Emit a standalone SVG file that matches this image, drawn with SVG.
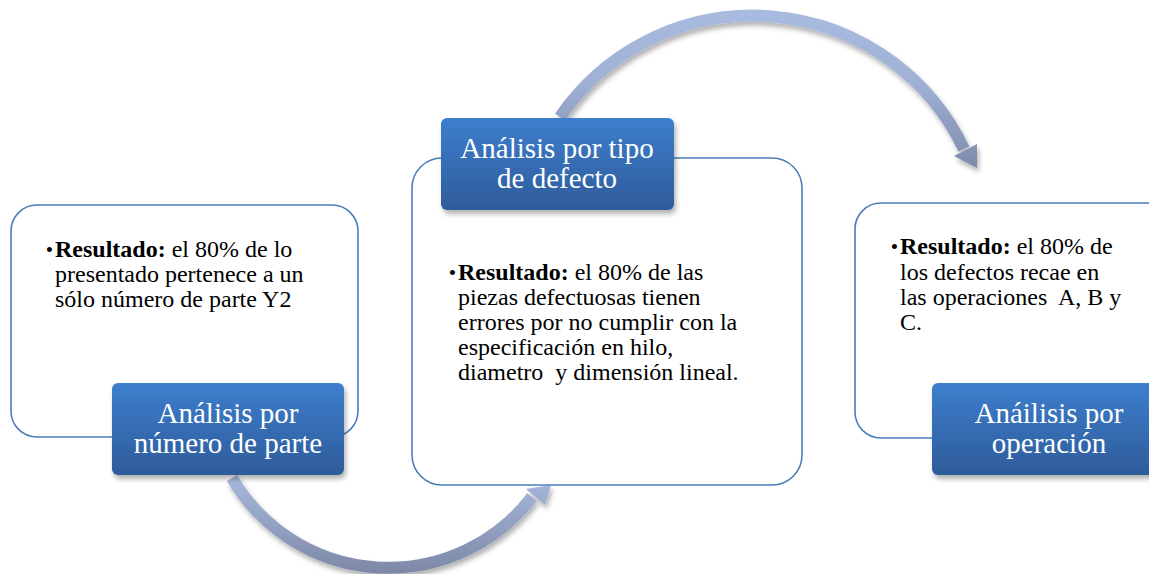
<svg xmlns="http://www.w3.org/2000/svg" width="1149" height="574" viewBox="0 0 1149 574">
<style>
.box{fill:#ffffff;stroke:#4a7ebb;stroke-width:1.6}
.lbl{fill:url(#lblGrad);filter:url(#shadow)}
text{font-family:'Liberation Serif','DejaVu Serif',serif}
.lt{font-size:29px;fill:#ffffff;text-anchor:middle}
.bt{font-size:24px;fill:#000000}
.b{font-weight:bold}
.bul{text-anchor:end;font-size:21px}
</style>
<defs>
<linearGradient id="lblGrad" x1="0" y1="0" x2="0" y2="1">
<stop offset="0" stop-color="#3d7ecd"/>
<stop offset="1" stop-color="#2e5c9a"/>
</linearGradient>
<linearGradient id="topArrowGrad" gradientUnits="userSpaceOnUse" x1="0" y1="15" x2="0" y2="170">
<stop offset="0" stop-color="#a8badf"/>
<stop offset="0.45" stop-color="#9fb0d4"/>
<stop offset="1" stop-color="#7d89a8"/>
</linearGradient>
<linearGradient id="botArrowGrad" gradientUnits="userSpaceOnUse" x1="0" y1="478" x2="0" y2="572">
<stop offset="0" stop-color="#a7b8dc"/>
<stop offset="1" stop-color="#7e89a7"/>
</linearGradient>
<filter id="shadow" x="-10%" y="-10%" width="130%" height="140%">
<feDropShadow dx="2" dy="4" stdDeviation="2.5" flood-color="#000000" flood-opacity="0.3"/>
</filter>
</defs>

<g id="connectors" filter="url(#shadow)">
<path d="M 560 117 A 234 234 0 0 1 964 149" fill="none" stroke="url(#topArrowGrad)" stroke-width="12"/>
<polygon points="954,156 977,144 977,168" fill="url(#topArrowGrad)"/>
<path d="M 232 478 A 181 181 0 0 0 532 497" fill="none" stroke="url(#botArrowGrad)" stroke-width="12"/>
<polygon points="526,489 545,505 551,485" fill="url(#botArrowGrad)"/>
</g>

<g id="node-numero-parte">
<rect class="box" x="11" y="205" width="347" height="232" rx="26"/>
<text class="bt bul" x="53" y="257">•</text>
<text class="bt" x="55" y="257"><tspan class="b">Resultado:</tspan> el 80% de lo</text>
<text class="bt" x="55" y="282">presentado pertenece a un</text>
<text class="bt" x="55" y="307">sólo número de parte Y2</text>
<rect class="lbl" x="112" y="383" width="232" height="92" rx="6"/>
<text class="lt" x="228" y="423">Análisis por</text>
<text class="lt" x="228" y="453">número de parte</text>
</g>

<g id="node-tipo-defecto">
<rect class="box" x="412" y="158" width="390" height="327" rx="30"/>
<text class="bt bul" x="456" y="280">•</text>
<text class="bt" x="458" y="280"><tspan class="b">Resultado:</tspan> el 80% de las</text>
<text class="bt" x="458" y="305">piezas defectuosas tienen</text>
<text class="bt" x="458" y="330">errores por no cumplir con la</text>
<text class="bt" x="458" y="355">especificación en hilo,</text>
<text class="bt" x="458" y="380" xml:space="preserve">diametro  y dimensión lineal.</text>
<rect class="lbl" x="441" y="118" width="233" height="92" rx="6"/>
<text class="lt" x="557" y="158">Análisis por tipo</text>
<text class="lt" x="557" y="188">de defecto</text>
</g>

<g id="node-operacion">
<rect class="box" x="855" y="203" width="347" height="235" rx="26"/>
<text class="bt bul" x="898" y="254">•</text>
<text class="bt" x="900" y="254"><tspan class="b">Resultado:</tspan> el 80% de</text>
<text class="bt" x="900" y="280">los defectos recae en</text>
<text class="bt" x="900" y="305" xml:space="preserve">las operaciones  A, B y</text>
<text class="bt" x="900" y="330">C.</text>
<rect class="lbl" x="932" y="383" width="232" height="92" rx="6"/>
<text class="lt" x="1049" y="423">Anáilisis por</text>
<text class="lt" x="1049" y="453">operación</text>
</g>
</svg>
